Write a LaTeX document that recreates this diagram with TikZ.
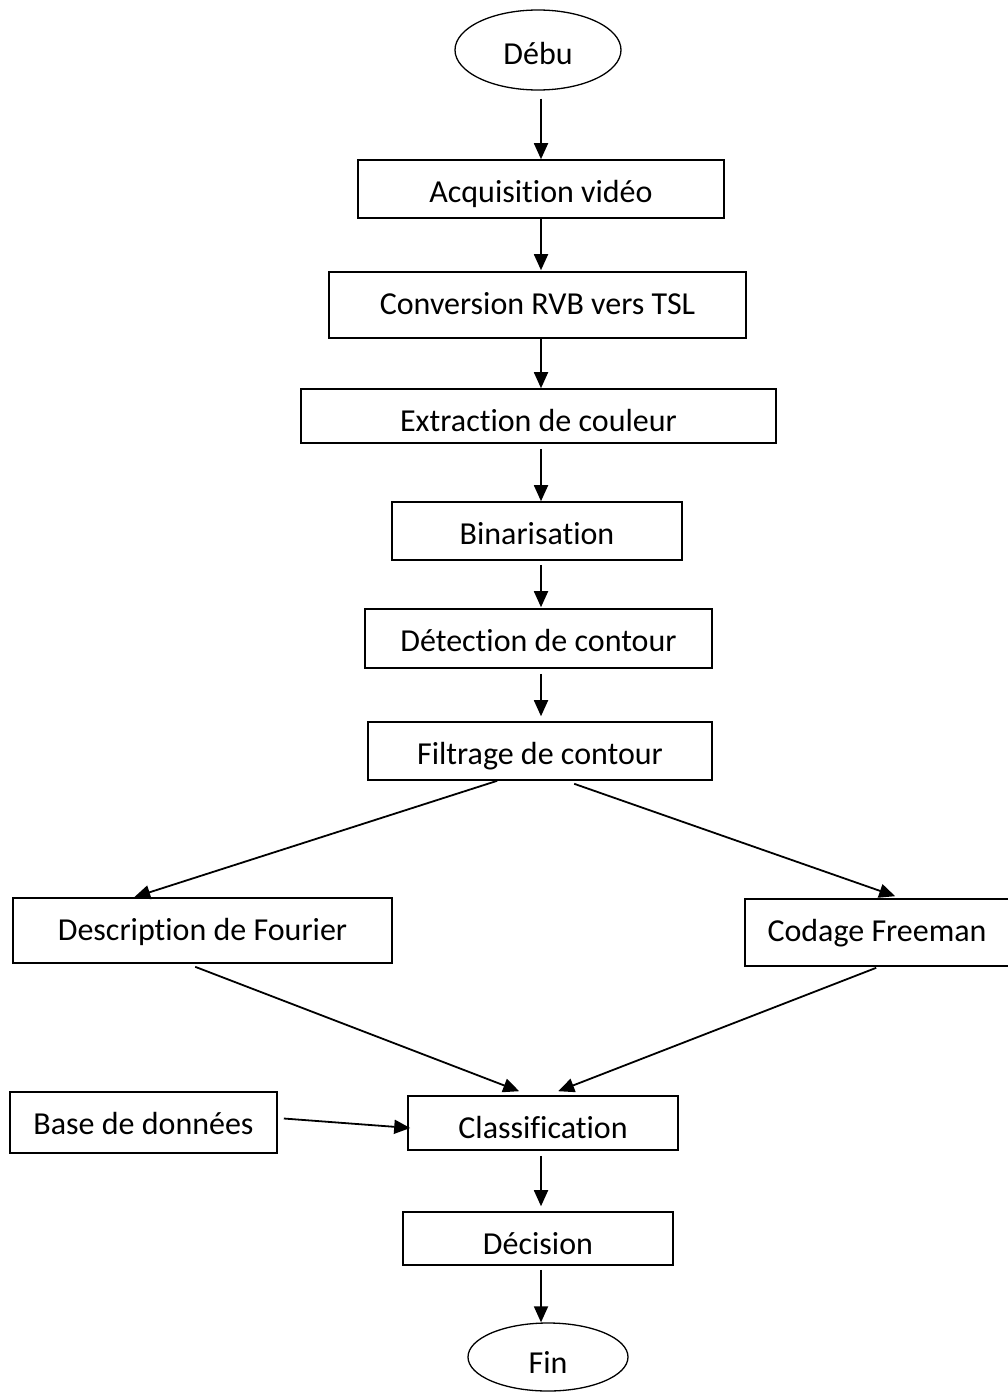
\documentclass[tikz,border=0pt]{standalone}
\usepackage{fontspec}
\setmainfont{Carlito}[Ligatures={NoCommon}]
\usetikzlibrary{arrows.meta,shapes.geometric,calc}
\begin{document}
\begin{tikzpicture}[x=1pt,y=-1pt,
  box/.style={draw,line width=1.6pt,rectangle,inner sep=0pt,text height=32pt,font=\fontsize{32}{38}\selectfont},
  oval/.style={draw,line width=1.3pt,ellipse,inner sep=0pt,text height=32pt,font=\fontsize{32}{38}\selectfont},
  arr/.style={line width=1.8pt,-{Triangle[length=16pt,width=14pt]}}]
\fill[white] (0,0) rectangle (1007,1392);
\useasboundingbox (0,0) rectangle (1007,1392);
\coordinate (ax) at (541,0);

\node[oval,minimum width=166pt,minimum height=80pt,text depth=4pt] (debu) at (538,50) {Débu};
\node[box,minimum width=366pt,minimum height=58pt,text depth=6pt] (acq) at (541,189) {Acquisition vidéo};
\node[box,minimum width=417pt,minimum height=66pt,text depth=14pt] (conv) at (537.5,305) {Conversion RVB vers TSL};
\node[box,minimum width=475pt,minimum height=54pt,text depth=2pt] (extr) at (538.5,416) {Extraction de couleur};
\node[box,minimum width=290pt,minimum height=58pt,text depth=6pt] (bin) at (537,531) {Binarisation};
\node[box,minimum width=347pt,minimum height=59pt,text depth=7pt] (det) at (538.5,638.5) {Détection de contour};
\node[box,minimum width=344pt,minimum height=58pt,text depth=6pt] (filt) at (540,751) {Filtrage de contour};
\node[box,minimum width=379pt,minimum height=65pt,text depth=13pt] (four) at (202.5,930.5) {Description de Fourier};
\node[box,minimum width=264pt,minimum height=67pt,text depth=15pt] (free) at (877,932.5) {Codage Freeman};
\node[box,minimum width=267pt,minimum height=61pt,text depth=9pt] (base) at (143.5,1122.5) {Base de données};
\node[box,minimum width=270pt,minimum height=54pt,text depth=2pt] (cls) at (543,1123) {Classification};
\node[box,minimum width=270pt,minimum height=53pt,text depth=1pt] (dec) at (538,1238.5) {Décision};
\node[oval,minimum width=160pt,minimum height=68pt,text depth=0pt] (fin) at (548,1357) {Fin};

\draw[arr,shorten <=8pt] (debu.south -| ax) -- (acq.north -| ax);
\draw[arr,shorten >=1pt] (acq.south -| ax) -- (conv.north -| ax);
\draw[arr] (conv.south -| ax) -- (extr.north -| ax);
\draw[arr,shorten <=5pt] (extr.south -| ax) -- (bin.north -| ax);
\draw[arr,shorten <=4pt,shorten >=1pt] (bin.south -| ax) -- (det.north -| ax);
\draw[arr,shorten <=5pt,shorten >=5pt] (det.south -| ax) -- (filt.north -| ax);
\draw[arr] ($(filt.south west)+(130,0)$) -- ($(four.north west)+(122,0)$);
\draw[arr] ($(filt.south west)+(207,3)$) -- ($(free.north west)+(151,-2)$);
\draw[arr] ($(four.south west)+(183,3)$) -- ($(cls.north west)+(112,-4)$);
\draw[arr] ($(free.south west)+(132,1)$) -- ($(cls.north west)+(151,-4)$);
\draw[arr] ($(base.east)+(6,-4)$) -- ($(cls.west)+(3,5)$);
\draw[arr,shorten <=5pt,shorten >=5pt] (cls.south -| ax) -- (dec.north -| ax);
\draw[arr,shorten <=4pt] (dec.south -| ax) -- (fin.north -| ax);
\end{tikzpicture}
\end{document}
